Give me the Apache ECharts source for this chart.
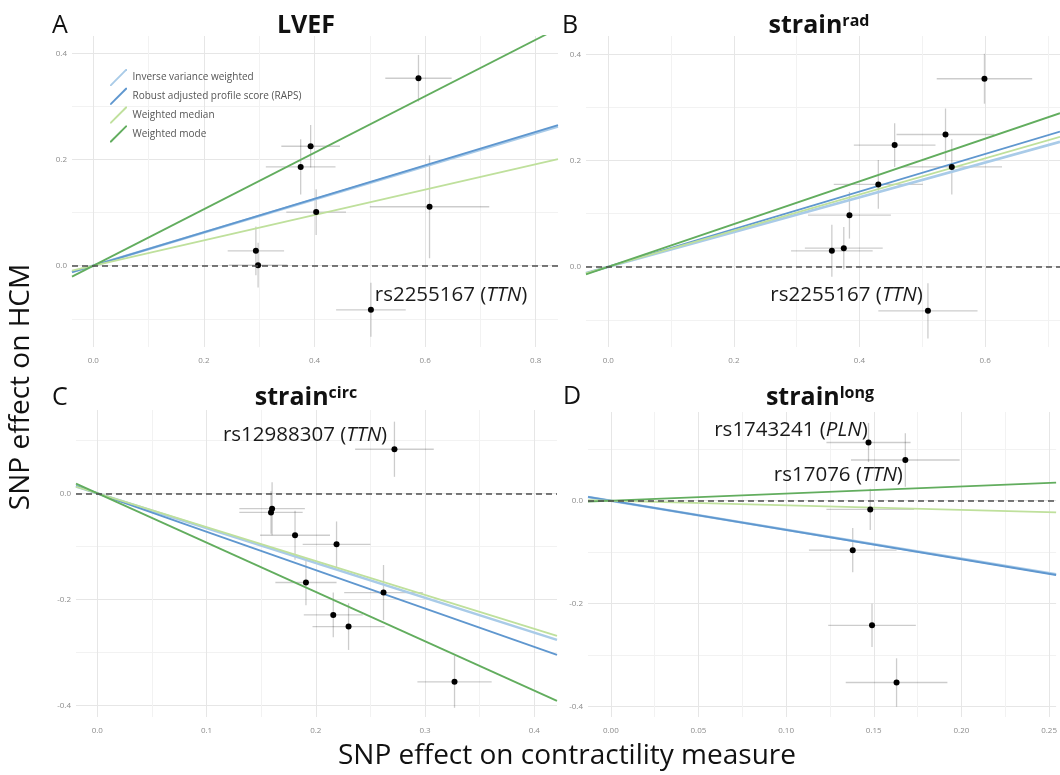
<!DOCTYPE html>
<html>
<head>
<meta charset="utf-8">
<script src="https://cdn.jsdelivr.net/npm/echarts@6/dist/echarts.min.js"></script>
<style>
html,body{margin:0;padding:0;background:#fff;}
#chart{width:1060px;height:775px;}
</style>
</head>
<body>
<div id="chart"></div>
<script>
// ---------- data ----------
const methods = ['Inverse variance weighted', 'Robust adjusted profile score (RAPS)', 'Weighted median', 'Weighted mode'];

// Panel A: LVEF
const lvefBx   = [0.588, 0.393, 0.375, 0.403, 0.608, 0.294, 0.298, 0.502];
const lvefBxSe = [0.060, 0.053, 0.063, 0.054, 0.108, 0.051, 0.053, 0.063];
const lvefBy   = [0.353, 0.225, 0.186, 0.101, 0.111, 0.028, 0.001, -0.083];
const lvefBySe = [0.044, 0.040, 0.052, 0.043, 0.097, 0.046, 0.042, 0.051];
const lvefSlopes = [0.312, 0.315, 0.239, 0.532];

// Panel B: strain rad
const radBx   = [0.599, 0.537, 0.456, 0.547, 0.430, 0.384, 0.375, 0.356, 0.509];
const radBxSe = [0.076, 0.078, 0.065, 0.080, 0.071, 0.066, 0.062, 0.065, 0.079];
const radBy   = [0.354, 0.249, 0.229, 0.188, 0.155, 0.097, 0.035, 0.030, -0.083];
const radBySe = [0.047, 0.049, 0.041, 0.052, 0.046, 0.044, 0.040, 0.049, 0.052];
const radSlopes = [0.327, 0.354, 0.340, 0.402];

// Panel C: strain circ
const circBx   = [0.272, 0.160, 0.159, 0.181, 0.219, 0.191, 0.262, 0.216, 0.230, 0.327];
const circBxSe = [0.036, 0.030, 0.029, 0.032, 0.031, 0.028, 0.036, 0.027, 0.033, 0.034];
const circBy   = [0.083, -0.029, -0.036, -0.079, -0.096, -0.168, -0.187, -0.229, -0.251, -0.355];
const circBySe = [0.052, 0.050, 0.040, 0.046, 0.043, 0.043, 0.052, 0.042, 0.044, 0.049];
const circSlopes = [-0.656, -0.723, -0.638, -0.929];

// Panel D: strain long
const longBx   = [0.147, 0.168, 0.148, 0.138, 0.149, 0.163];
const longBxSe = [0.024, 0.031, 0.025, 0.025, 0.025, 0.029];
const longBy   = [0.113, 0.079, -0.017, -0.096, -0.242, -0.353];
const longBySe = [0.038, 0.052, 0.040, 0.043, 0.042, 0.047];
const longSlopes = [-0.563, -0.568, -0.089, 0.138];

// SNP annotations
const lvefNotes = [{snp: 'rs2255167', gene: 'TTN', x: 0.509, y: -0.055}];
const radNotes  = [{snp: 'rs2255167', gene: 'TTN', x: 0.258, y: -0.053}];
const circNotes = [{snp: 'rs12988307', gene: 'TTN', x: 0.115, y: 0.110}];
const longNotes = [{snp: 'rs1743241', gene: 'PLN', x: 0.059, y: 0.137},
                   {snp: 'rs17076', gene: 'TTN', x: 0.093, y: 0.050}];

// axis ranges [xmin, xmax, ymin, ymax]
const lvefRange = [-0.0385, 0.8403, -0.1531, 0.4326];
const radRange  = [-0.0355, 0.7193, -0.1512, 0.4345];
const circRange = [-0.0195, 0.4208, -0.4213, 0.1569];
const longRange = [-0.0130, 0.2540, -0.4200, 0.1722];

// ---------- styles ----------
const methodColors = ['#a9cbe8', '#5f97cf', '#bfe09c', '#62ad5e'];
const methodWidths = [2.6, 1.8, 1.8, 1.8];
const FONT = 'Open Sans';

const panels = [
  {bx: lvefBx, bxse: lvefBxSe, by: lvefBy, byse: lvefBySe, slopes: lvefSlopes, notes: lvefNotes, range: lvefRange,
   grid: {left: 72, top: 36, width: 486, height: 311}, xsplit: 4, ysplit: 3, xdec: 1},
  {bx: radBx, bxse: radBxSe, by: radBy, byse: radBySe, slopes: radSlopes, notes: radNotes, range: radRange,
   grid: {left: 586, top: 36, width: 474, height: 311}, xsplit: 4, ysplit: 3, xdec: 1},
  {bx: circBx, bxse: circBxSe, by: circBy, byse: circBySe, slopes: circSlopes, notes: circNotes, range: circRange,
   grid: {left: 76, top: 410, width: 481, height: 307}, xsplit: 5, ysplit: 3, xdec: 1},
  {bx: longBx, bxse: longBxSe, by: longBy, byse: longBySe, slopes: longSlopes, notes: longNotes, range: longRange,
   grid: {left: 588, top: 412, width: 472, height: 305}, xsplit: 5, ysplit: 3, xdec: 2}
];

const grids = [], xAxes = [], yAxes = [], series = [];

function errRender(params, api) {
  const x = api.value(0), y = api.value(1), xs = api.value(2), ys = api.value(3);
  const pL = api.coord([x - xs, y]), pR = api.coord([x + xs, y]);
  const pT = api.coord([x, y + ys]), pB = api.coord([x, y - ys]);
  const st = {stroke: 'rgba(0,0,0,0.2)', lineWidth: 1.3};
  return {type: 'group', children: [
    {type: 'line', shape: {x1: pL[0], y1: pL[1], x2: pR[0], y2: pR[1]}, style: st},
    {type: 'line', shape: {x1: pT[0], y1: pT[1], x2: pB[0], y2: pB[1]}, style: st}
  ]};
}

panels.forEach((p, i) => {
  grids.push(p.grid);
  const major = {show: true, showMinLine: false, showMaxLine: false, lineStyle: {color: '#e6e6e6', width: 1}};
  const minor = {show: true, lineStyle: {color: '#f2f2f2', width: 1}};
  xAxes.push({
    type: 'value', gridIndex: i, min: p.range[0], max: p.range[1], splitNumber: p.xsplit,
    axisLine: {show: false}, axisTick: {show: false},
    axisLabel: {show: true, showMinLabel: false, showMaxLabel: false, color: '#8c8c8c', fontSize: 8, fontFamily: FONT, margin: 10,
                formatter: v => v.toFixed(p.xdec)},
    splitLine: major, minorTick: {show: false, splitNumber: 2}, minorSplitLine: minor
  });
  yAxes.push({
    type: 'value', gridIndex: i, min: p.range[2], max: p.range[3], splitNumber: p.ysplit,
    axisLine: {show: false}, axisTick: {show: false},
    axisLabel: {show: true, showMinLabel: false, showMaxLabel: false, color: '#8c8c8c', fontSize: 8, fontFamily: FONT, margin: 5,
                formatter: v => v.toFixed(1)},
    splitLine: major, minorTick: {show: false, splitNumber: 2}, minorSplitLine: minor
  });
  const pts = p.bx.map((x, k) => [x, p.by[k], p.bxse[k], p.byse[k]]);
  series.push({
    type: 'custom', xAxisIndex: i, yAxisIndex: i, renderItem: errRender, data: pts, clip: true, z: 1, silent: true,
    encode: {x: 0, y: 1}
  });
  series.push({
    type: 'scatter', xAxisIndex: i, yAxisIndex: i, data: pts.map(d => [d[0], d[1]]), symbolSize: 6,
    itemStyle: {color: '#000', opacity: 1}, z: 3, silent: true,
    markLine: {silent: true, symbol: 'none', label: {show: false},
               lineStyle: {type: [6, 4], color: '#4d4d4d', width: 1.6},
               data: [{yAxis: 0}]}
  });
  methods.forEach((m, j) => {
    const s = p.slopes[j];
    series.push({
      type: 'line', name: m, xAxisIndex: i, yAxisIndex: i,
      data: [[p.range[0], s * p.range[0]], [p.range[1], s * p.range[1]]],
      showSymbol: false, symbol: 'none', clip: true, z: 2 + j * 0.1,
      lineStyle: {color: methodColors[j], width: methodWidths[j]},
      itemStyle: {color: methodColors[j]}
    });
  });
  series.push({
    type: 'scatter', xAxisIndex: i, yAxisIndex: i, symbolSize: 0, silent: true, z: 4,
    itemStyle: {opacity: 1},
    data: p.notes.map(n => ({value: [n.x, n.y], snp: n.snp, gene: n.gene})),
    label: {show: true, position: 'inside', align: 'left', verticalAlign: 'middle',
            formatter: prm => '{a|' + prm.data.snp + ' (}{i|' + prm.data.gene + '}{a|)}',
            rich: {a: {fontFamily: FONT, fontSize: 20.5, color: '#1a1a1a'},
                   i: {fontFamily: FONT, fontSize: 20.5, color: '#1a1a1a', fontStyle: 'italic'}}}
  });
});

const legendIcon = 'path://M0,20 L1.6,20 L20,1.6 L20,0 L18.4,0 L0,18.4 Z';

function titleText(x, y, main, sup) {
  return {type: 'text', x: x, y: y, style: {
    text: sup ? '{b|' + main + '}{s|' + sup + '}' : '{b|' + main + '}',
    align: 'center', verticalAlign: 'middle',
    rich: {b: {fontFamily: FONT, fontSize: 25, fontWeight: 'bold', fill: '#111'},
           s: {fontFamily: FONT, fontSize: 16, fontWeight: 'bold', fill: '#111', verticalAlign: 'top'}}
  }};
}
function letter(x, y, t) {
  return {type: 'text', x: x, y: y, style: {text: t, font: '25px "' + FONT + '"', fill: '#111', align: 'left', verticalAlign: 'middle'}};
}

const option = {
  animation: false,
  backgroundColor: '#fff',
  grid: grids,
  xAxis: xAxes,
  yAxis: yAxes,
  legend: {
    data: methods, orient: 'vertical', left: 105, top: 64, itemWidth: 18, itemHeight: 17, itemGap: 1.8,
    icon: legendIcon, textStyle: {fontFamily: FONT, fontSize: 10, color: '#555'}, selectedMode: false
  },
  series: series,
  graphic: [
    letter(52, 26, 'A'), letter(562, 26, 'B'), letter(52, 398, 'C'), letter(563, 397, 'D'),
    titleText(306, 26, 'LVEF'), titleText(819, 26, 'strain', 'rad'),
    titleText(306, 398, 'strain', 'circ'), titleText(820, 398, 'strain', 'long'),
    {type: 'text', x: 21, y: 387, rotation: Math.PI / 2,
     style: {text: 'SNP effect on HCM', font: '28px "' + FONT + '"', fill: '#111', align: 'center', verticalAlign: 'middle'}},
    {type: 'text', x: 567, y: 756,
     style: {text: 'SNP effect on contractility measure', font: '28px "' + FONT + '"', fill: '#111', align: 'center', verticalAlign: 'middle'}}
  ]
};

const chart = echarts.init(document.getElementById('chart'), null, {renderer: 'canvas'});
chart.setOption(option);
</script>
</body>
</html>
